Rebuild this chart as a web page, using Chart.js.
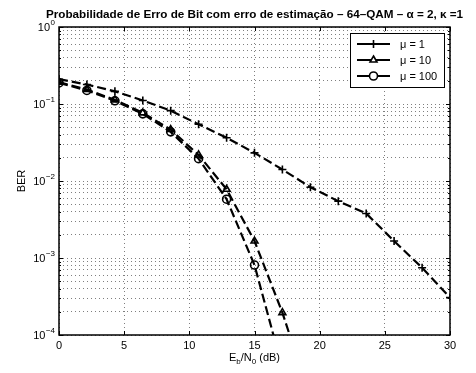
<!DOCTYPE html>
<html>
<head>
<meta charset="utf-8">
<script src="https://cdn.jsdelivr.net/npm/chart.js@4.4.1/dist/chart.umd.min.js"></script>
<style>
  html, body { margin: 0; padding: 0; background: #fff; }
  canvas { display: block; }
</style>
</head>
<body>
<canvas id="berChart" width="476" height="373"></canvas>
<script>
// Eb/N0 (dB) where the curves were sampled
const ebn0 = [0, 2.14, 4.29, 6.43, 8.57, 10.71, 12.86, 15, 17.14, 19.29, 21.43, 23.57, 25.71, 27.86, 30];

// BER (curves go below 1e-4 and get clipped)
const berMu1 = [0.21, 0.179, 0.146, 0.111, 0.082, 0.0545, 0.0365, 0.0232, 0.0141, 0.0083, 0.00547, 0.00379, 0.00166, 0.000748, 0.000306];
const berMu10 = [0.192, 0.154, 0.113, 0.0767, 0.0466, 0.0218, 0.0078, 0.00166, 0.000195, 0.000015];
const berMu100 = [0.188, 0.150, 0.110, 0.0745, 0.0435, 0.0195, 0.0058, 0.00081, 0.000037, 0.0000005];

const seriesLabels = ['\u03bc = 1', '\u03bc = 10', '\u03bc = 100'];
const seriesMarkers = ['cross', 'triangle', 'circle'];

const xTicks = [0, 5, 10, 15, 20, 25, 30];
const yDecades = [-4, -3, -2, -1, 0];

const titleText = 'Probabilidade de Erro de Bit com erro de estima\u00e7\u00e3o \u2013 64\u2013QAM \u2013 \u03b1 = 2, \u03ba =1';

const FONT = '"Liberation Sans", Arial, Helvetica, sans-serif';

function toPoints(values) {
    return values.map((v, i) => ({ x: ebn0[i], y: v }));
}

function makeDataset(label, values, marker) {
    return {
        label: label,
        data: toPoints(values),
        borderColor: '#000',
        borderWidth: 2.2,
        borderDash: [9, 4],
        pointStyle: marker,
        pointRadius: 4,
        pointBorderWidth: 1.6,
        pointBorderColor: '#000',
        pointBackgroundColor: 'rgba(0,0,0,0)',
        fill: false,
        tension: 0
    };
}

// MATLAB-like decorations: box, inward ticks, labels, title, legend
const matlabAxes = {
    id: 'matlabAxes',
    beforeDraw(chart) {
        const ctx = chart.ctx;
        ctx.save();
        ctx.fillStyle = '#fff';
        ctx.fillRect(0, 0, chart.width, chart.height);
        ctx.restore();
    },
    afterDraw(chart) {
        const ctx = chart.ctx;
        const area = chart.chartArea;
        const xs = chart.scales.x;
        const ys = chart.scales.y;
        ctx.save();

        // box
        ctx.strokeStyle = '#000';
        ctx.lineWidth = 1.5;
        ctx.strokeRect(area.left, area.top, area.right - area.left, area.bottom - area.top);

        // x ticks (inward, top and bottom)
        ctx.lineWidth = 1;
        ctx.beginPath();
        xTicks.forEach(v => {
            const px = Math.round(xs.getPixelForValue(v)) + 0.5;
            ctx.moveTo(px, area.bottom);
            ctx.lineTo(px, area.bottom - 4);
            ctx.moveTo(px, area.top);
            ctx.lineTo(px, area.top + 4);
        });
        // y ticks, major and minor
        ys.ticks.forEach(t => {
            const py = Math.round(ys.getPixelForValue(t.value)) + 0.5;
            const len = t.major ? 4 : 2;
            ctx.moveTo(area.left, py);
            ctx.lineTo(area.left + len, py);
            ctx.moveTo(area.right, py);
            ctx.lineTo(area.right - len, py);
        });
        ctx.stroke();

        // x tick labels
        ctx.fillStyle = '#000';
        ctx.font = '11px ' + FONT;
        ctx.textAlign = 'center';
        ctx.textBaseline = 'middle';
        xTicks.forEach(v => {
            ctx.fillText(String(v), xs.getPixelForValue(v), area.bottom + 11);
        });

        // y tick labels 10^e
        yDecades.forEach(e => {
            const py = ys.getPixelForValue(Math.pow(10, e));
            const expText = e < 0 ? '\u2212' + Math.abs(e) : String(e);
            ctx.font = '8px ' + FONT;
            const expW = ctx.measureText(expText).width;
            const expX = 55 - expW;
            ctx.textAlign = 'left';
            ctx.textBaseline = 'alphabetic';
            ctx.fillText(expText, expX, py - 2);
            ctx.font = '11px ' + FONT;
            ctx.textAlign = 'right';
            ctx.textBaseline = 'middle';
            ctx.fillText('10', expX - 0.5, py + 1);
        });

        // y axis title
        ctx.save();
        ctx.translate(22, (area.top + area.bottom) / 2);
        ctx.rotate(-Math.PI / 2);
        ctx.font = '11px ' + FONT;
        ctx.textAlign = 'center';
        ctx.textBaseline = 'middle';
        ctx.fillText('BER', 0, 0);
        ctx.restore();

        // x axis title E_b/N_0 (dB)
        const parts = [['E', 11, 0], ['b', 8, 3], ['/N', 11, 0], ['0', 8, 3], [' (dB)', 11, 0]];
        let total = 0;
        parts.forEach(p => { ctx.font = p[1] + 'px ' + FONT; total += ctx.measureText(p[0]).width; });
        let cx = (area.left + area.right) / 2 - total / 2;
        ctx.textAlign = 'left';
        ctx.textBaseline = 'alphabetic';
        parts.forEach(p => {
            ctx.font = p[1] + 'px ' + FONT;
            ctx.fillText(p[0], cx, 361 + p[2]);
            cx += ctx.measureText(p[0]).width;
        });

        // title
        ctx.font = 'bold 11.7px ' + FONT;
        ctx.textAlign = 'center';
        ctx.fillText(titleText, (area.left + area.right) / 2, 18);

        // legend
        const lx = 350, ly = 33, lw = 94, lh = 54;
        ctx.fillStyle = '#fff';
        ctx.fillRect(lx, ly, lw, lh);
        ctx.strokeStyle = '#000';
        ctx.lineWidth = 1;
        ctx.strokeRect(lx + 0.5, ly + 0.5, lw, lh);
        chart.data.datasets.forEach((ds, i) => {
            const ry = ly + 11 + i * 16;
            ctx.strokeStyle = '#000';
            ctx.lineWidth = 2;
            ctx.setLineDash([]);
            ctx.beginPath();
            ctx.moveTo(lx + 7, ry);
            ctx.lineTo(lx + 40, ry);
            ctx.stroke();
            ctx.fillStyle = '#fff';
            ctx.lineWidth = ds.pointBorderWidth;
            Chart.helpers.drawPoint(ctx, {
                pointStyle: ds.pointStyle,
                radius: ds.pointRadius,
                rotation: 0,
                borderWidth: ds.pointBorderWidth
            }, lx + 23.5, ry);
            ctx.fillStyle = '#000';
            ctx.font = '11px ' + FONT;
            ctx.textAlign = 'left';
            ctx.textBaseline = 'middle';
            ctx.fillText(ds.label, lx + 50, ry + 1);
        });

        ctx.restore();
    }
};

const chart = new Chart(document.getElementById('berChart'), {
    type: 'line',
    data: {
        datasets: [
            makeDataset(seriesLabels[0], berMu1, seriesMarkers[0]),
            makeDataset(seriesLabels[1], berMu10, seriesMarkers[1]),
            makeDataset(seriesLabels[2], berMu100, seriesMarkers[2])
        ]
    },
    options: {
        responsive: false,
        animation: false,
        layout: { padding: { left: 59, right: 26, top: 27, bottom: 38 } },
        plugins: {
            legend: { display: false },
            title: { display: false },
            tooltip: { enabled: false }
        },
        scales: {
            x: {
                type: 'linear',
                min: 0,
                max: 30,
                afterBuildTicks: scale => {
                    scale.ticks = xTicks.map(v => ({ value: v }));
                },
                ticks: { display: false },
                grid: { color: 'rgba(0,0,0,0.5)', lineWidth: 1, drawTicks: false },
                border: { display: false, dash: [1, 3] }
            },
            y: {
                type: 'logarithmic',
                min: 1e-4,
                max: 1,
                afterBuildTicks: scale => {
                    const ticks = [];
                    yDecades.forEach(e => {
                        const top = e === 0 ? 1 : 9;
                        for (let m = 1; m <= top; m++) {
                            ticks.push({ value: m * Math.pow(10, e), major: m === 1 });
                        }
                    });
                    scale.ticks = ticks;
                },
                ticks: { display: false },
                grid: { color: 'rgba(0,0,0,0.5)', lineWidth: 1, drawTicks: false },
                border: { display: false, dash: [1, 3] }
            }
        }
    },
    plugins: [matlabAxes]
});
</script>
</body>
</html>
